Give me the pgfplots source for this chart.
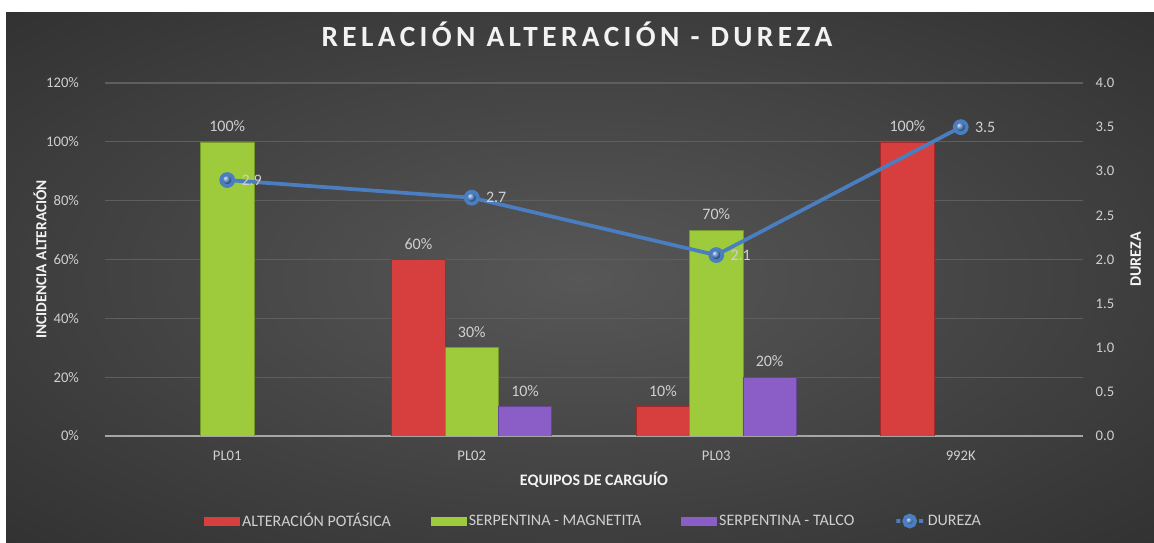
\documentclass[border=0pt]{standalone}
\usepackage{pgfplots}
\pgfplotsset{compat=1.18}
\usepackage{pgfplotstable}
\usepackage{fontspec}
\setmainfont{Carlito}
\newfontfamily\titlefont[LetterSpace=15]{Carlito}
\usetikzlibrary{plotmarks}
\definecolor{bgin}{HTML}{575757}
\definecolor{bgout}{HTML}{282828}
\definecolor{gridc}{HTML}{5E5E5E}
\definecolor{txtc}{HTML}{D0D0D0}
\definecolor{titc}{HTML}{F2F2F2}
\definecolor{redc}{HTML}{D63F3D}
\definecolor{redd}{HTML}{A32A28}
\definecolor{greenc}{HTML}{9ECB3C}
\definecolor{greend}{HTML}{76992A}
\definecolor{purc}{HTML}{8A5EC6}
\definecolor{purd}{HTML}{664496}
\definecolor{bluec}{HTML}{4A7EC0}
\definecolor{axc}{HTML}{A6A6A6}
\pgfdeclareradialshading{bgshade}{\pgfpoint{0bp}{0bp}}{color(0bp)=(bgin); color(45bp)=(bgout); color(50bp)=(bgout)}

\pgfplotstableread{
x y
1 60
2 10
3 100
}\redtab
\pgfplotstableread{
x y
0 100
1 30
2 70
}\greentab
\pgfplotstableread{
x y
1 10
2 20
}\purtab
\pgfplotstableread{
x y lab
0 2.9 2.9
1 2.7 2.7
2 2.05 2.1
3 3.5 3.5
}\durtab

\begin{document}
\begin{tikzpicture}
\useasboundingbox (0,0) rectangle (865.5pt,407.25pt);
\fill[white] (0,0) rectangle (865.5pt,407.25pt);
\shade[shading=bgshade] (4.5pt,0pt) rectangle (865.5pt,397.5pt);
\begin{axis}[
  at={(78.75pt,80.25pt)}, anchor=south west,
  scale only axis, width=733.5pt, height=264.75pt,
  xmin=-0.5, xmax=3.5, ymin=0, ymax=120,
  ybar=0pt, bar width=40pt,
  axis x line*=bottom, axis y line*=left,
  x axis line style={axc, line width=1.2pt},
  y axis line style={draw=none},
  major tick length=0pt,
  xtick={0,1,2,3}, xticklabels={PL01,PL02,PL03,992K},
  ytick={0,20,...,120},
  yticklabel={\pgfmathprintnumber{\tick}\%},
  /pgf/number format/assume math mode=true,
  ticklabel style={font=\fontsize{11}{13}\selectfont, text=txtc},
  yticklabel style={xshift=-16pt},
  xticklabel style={yshift=-8pt},
  ymajorgrids, grid style={gridc, line width=0.8pt},
  nodes near coords={\pgfmathprintnumber{\pgfplotspointmeta}\%},
  every node near coord/.append style={font=\fontsize{12}{14}\selectfont, text=txtc, yshift=4pt},
  xlabel={EQUIPOS DE CARGUÍO},
  xlabel style={at={(axis description cs:0.5,-0.125)}, anchor=center, font=\fontsize{12}{14}\selectfont\bfseries, text=titc},
  ylabel={INCIDENCIA ALTERACIÓN},
  ylabel style={at={(axis description cs:-0.0665,0.5)}, anchor=center, font=\fontsize{11.5}{14}\selectfont\bfseries, text=titc},
  title={RELACIÓN ALTERACIÓN - DUREZA},
  title style={at={(axis description cs:0.4826,1.082)}, anchor=base, font=\titlefont\bfseries\fontsize{22}{26}\selectfont, text=titc},
  legend style={at={(axis description cs:0.5,-0.241)}, anchor=center, legend columns=4, draw=none, fill=none, text=txtc, font=\fontsize{12}{14}\selectfont, /tikz/every even column/.append style={column sep=28pt}},
  legend cell align=left,
]
\addplot[fill=redc, draw=redd, legend image code/.code={\fill[redc] (0pt,-3pt) rectangle (26pt,3pt);}] table[x=x,y=y] {\redtab};
\addlegendentry{ALTERACIÓN POTÁSICA}
\addplot[fill=greenc, draw=greend, legend image code/.code={\fill[greenc] (0pt,-3pt) rectangle (26pt,3pt);}] table[x=x,y=y] {\greentab};
\addlegendentry{SERPENTINA - MAGNETITA}
\addplot[fill=purc, draw=purd, legend image code/.code={\fill[purc] (0pt,-3pt) rectangle (26pt,3pt);}] table[x=x,y=y] {\purtab};
\addlegendentry{SERPENTINA - TALCO}
\addlegendimage{line legend, bluec, line width=3pt, mark=ball, mark size=4pt, mark options={ball color=bluec}}
\addlegendentry{DUREZA}
\end{axis}
\begin{axis}[
  at={(78.75pt,80.25pt)}, anchor=south west,
  scale only axis, width=733.5pt, height=264.75pt,
  xmin=-0.5, xmax=3.5, ymin=0, ymax=4,
  axis x line=none, axis y line*=right,
  y axis line style={draw=none},
  major tick length=0pt,
  ytick={0,0.5,...,4},
  /pgf/number format/assume math mode=true,
  yticklabel style={font=\fontsize{11}{13}\selectfont, text=txtc, xshift=6pt, /pgf/number format/.cd, fixed, fixed zerofill, precision=1},
  ylabel={DUREZA},
  ylabel style={at={(axis description cs:1.054,0.5)}, anchor=center, font=\fontsize{12}{14}\selectfont\bfseries, text=titc},
  clip=false,
  nodes near coords, point meta=explicit symbolic,
  every node near coord/.append style={anchor=west, xshift=6pt, font=\fontsize{12}{14}\selectfont, text=txtc},
]
\addplot[bluec, line width=2.8pt, mark=ball, mark size=4.5pt, mark options={ball color=bluec}] table[x=x,y=y,meta=lab] {\durtab};
\end{axis}
\end{tikzpicture}
\end{document}
